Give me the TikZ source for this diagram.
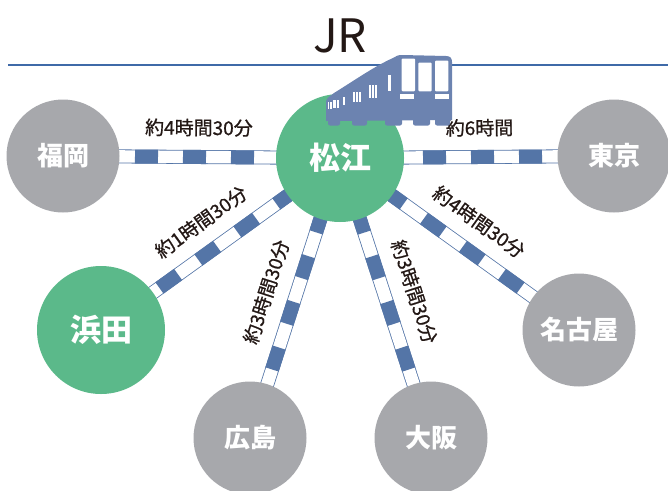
\documentclass[tikz,border=0pt]{standalone}
\usepackage{fontspec}
\newfontfamily\jp{Noto Sans CJK JP}
\newfontfamily\jpmid[FakeBold=0.8]{Noto Sans CJK JP}
\usetikzlibrary{backgrounds}

\definecolor{hubgreen}{HTML}{5BB98A}
\definecolor{citygray}{HTML}{A7A8AC}
\definecolor{railblue}{HTML}{5475A7}
\definecolor{trainblue}{HTML}{6C83B0}
\definecolor{ruleblue}{HTML}{3F6AA8}
\definecolor{ink}{HTML}{231815}

\begin{document}
\begin{tikzpicture}[x=1pt,y=-1pt,
  station/.style={circle, inner sep=0pt, text=white},
  hub/.style={station, fill=hubgreen, minimum size=128pt,
    font=\jp\bfseries\fontsize{31}{31}\selectfont},
  city/.style={station, fill=citygray, minimum size=113pt,
    font=\jp\bfseries\fontsize{26}{26}\selectfont},
  railedge/.style={line width=14pt, draw=railblue},
  railbed/.style={line width=12.4pt, draw=white},
  railtie/.style={line width=14pt, draw=railblue,
    dash pattern=on 23pt off 25pt, dash phase=24pt},
  timelabel/.style={font=\jpmid\fontsize{19}{19}\selectfont, text=ink,
    inner sep=0pt, sloped, above=13.5pt},
  train/.style={fill=trainblue},
  window/.style={fill=white}
]
\useasboundingbox (0,0) rectangle (668,490);

% title and rule
\node[font=\jp\fontsize{46}{46}\selectfont, text=ink, inner sep=0pt] (jr) at (340,36) {JR};
\coordinate (ruleL) at (8,65);
\coordinate (ruleR) at (668,65);
\draw[ruleblue, line width=1.5pt] (ruleL) -- (ruleR);

% stations
\node[hub]  (matsue)    at (340,158) {松江};
\node[hub]  (hamada)    at (101,330) {浜田};
\node[city] (fukuoka)   at (63,156)  {福岡};
\node[city] (tokyo)     at (614,156) {東京};
\node[city] (nagoya)    at (579,330) {名古屋};
\node[city] (hiroshima) at (250,438) {広島};
\node[city] (osaka)     at (431,438) {大阪};

% tracks with travel times
\begin{scope}[on background layer]
\foreach \c/\t in {fukuoka/約4時間30分, tokyo/約6時間, hamada/約1時間30分,
                   hiroshima/約3時間30分, osaka/約3時間30分, nagoya/約4時間30分}{
  \draw[railedge] (\c.center) -- (matsue.center);
  \draw[railbed]  (\c.center) -- (matsue.center);
  \draw[railtie]  (\c.center) -- (matsue.center)
    node[timelabel, pos=0.49] (time-\c) {\t};
}
\end{scope}

% train
\fill[train] (326,121) -- (326,101) .. controls (327,98) and (330,96) .. (334,93)
  .. controls (355,80) and (375,66) .. (393,58)
  .. controls (396,56) and (398,55) .. (402,55) -- (446,56)
  .. controls (450,56) and (452,58) .. (452,62) -- (452,120) -- (326,121) -- cycle;
\foreach \xa/\xb in {328/340, 352/367, 385/402, 413/430, 435/450}{
  \fill[train, rounded corners=2pt] (\xa,118) rectangle (\xb,125.5);
}
% front windows and lights
\fill[window, rounded corners=1pt] (401.7,58.5) rectangle (415,91.3);
\fill[window, rounded corners=1pt] (418.3,62.5) rectangle (431.7,91.3);
\fill[window, rounded corners=1pt] (435,60.5) rectangle (448.3,91.3);
\fill[window] (400,94.3) rectangle (413.5,98.7);
\fill[window] (435,94.3) rectangle (448.5,98.7);
% side windows
\fill[window] (388.3,74.7) rectangle (391,91.3);
\foreach \xa/\xb in {369.3/371, 372.3/374, 375.3/377.3}{
  \fill[window] (\xa,85) rectangle (\xb,98);
}
\foreach \xa/\xb in {353.3/355, 356/357.7, 358.7/360.5}{
  \fill[window] (\xa,91.5) rectangle (\xb,102);
}
\fill[window] (342.7,97.3) rectangle (345,105.3);
\fill[window] (333.3,100) rectangle (335.5,108);
\fill[window] (337,100) rectangle (339.3,108);
\fill[window] (327.5,101.5) rectangle (329.3,108.7);
\fill[window] (330.3,101.5) rectangle (331.8,108.7);
\end{tikzpicture}
\end{document}
